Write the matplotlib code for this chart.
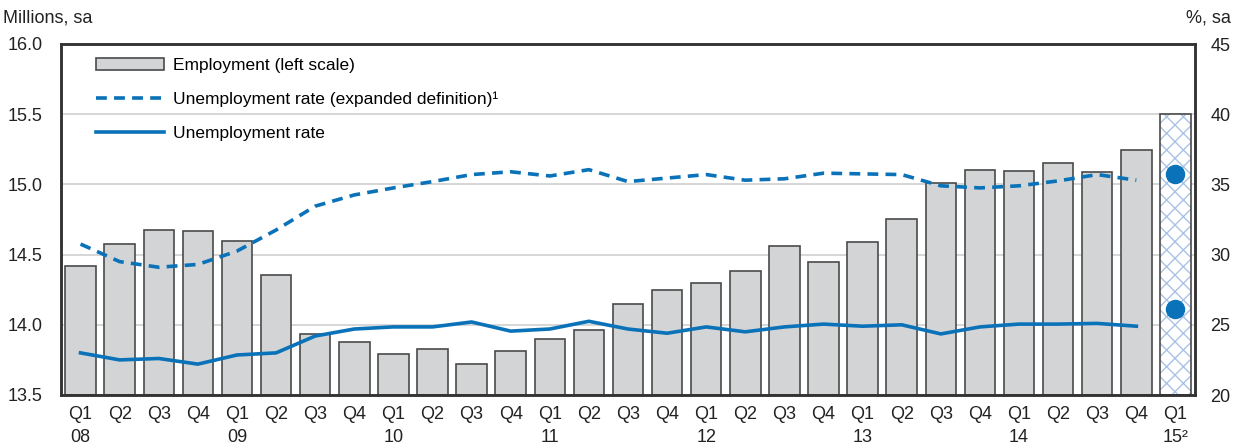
import numpy as np
import matplotlib
matplotlib.use("Agg")
import matplotlib.pyplot as plt

plt.rcParams['font.family'] = ['Liberation Sans', 'DejaVu Sans']
plt.rcParams['hatch.linewidth'] = 1.0

quarters = ["Q1", "Q2", "Q3", "Q4"]
years = ["08", "09", "10", "11", "12", "13", "14"]
tick_labels = []
for y in years:
    for i, q in enumerate(quarters):
        tick_labels.append(q + "\n" + y if i == 0 else q)
tick_labels.append("Q1\n15\u00b2")

# employment, millions (Q1 08 - Q4 14)
employment = [14.42, 14.575, 14.675, 14.67, 14.60, 14.355, 13.935, 13.88,
              13.79, 13.83, 13.72, 13.81, 13.90, 13.96, 14.15, 14.25,
              14.30, 14.38, 14.56, 14.45, 14.59, 14.75, 15.01, 15.10,
              15.095, 15.15, 15.09, 15.245]
employment_q1_15 = 15.5

# unemployment rate, %
unemp = [23.0, 22.5, 22.6, 22.2, 22.85, 23.0, 24.2, 24.7,
         24.85, 24.85, 25.2, 24.55, 24.7, 25.25, 24.7, 24.4,
         24.85, 24.5, 24.85, 25.05, 24.9, 25.0, 24.35, 24.85,
         25.05, 25.05, 25.1, 24.9]
unemp_q1_15 = 26.1

# unemployment rate, expanded definition, %
unemp_exp = [30.75, 29.5, 29.1, 29.3, 30.25, 31.75, 33.45, 34.25,
             34.75, 35.2, 35.7, 35.9, 35.6, 36.05, 35.2, 35.45,
             35.7, 35.3, 35.4, 35.8, 35.75, 35.7, 34.9, 34.75,
             34.9, 35.25, 35.7, 35.3]
unemp_exp_q1_15 = 35.75

blue = '#0a72b8'
dark = '#333333'

fig = plt.figure(figsize=(12.39, 4.48), dpi=100)
ax = fig.add_axes([61/1239, 1-395/448, (1195-61)/1239, (395-44)/448])
ax2 = ax.twinx()

x = np.arange(len(employment))
xf = len(employment)

ax.bar(x, np.array(employment) - 13.5, bottom=13.5, width=0.78,
       color='#d3d4d6', edgecolor='#4a4a4a', linewidth=1.2,
       label='Employment (left scale)')
ax.bar([xf], [employment_q1_15 - 13.5], bottom=13.5, width=0.78,
       color='white', edgecolor='#a9c3e6', hatch='xx', linewidth=0)
ax.bar([xf], [employment_q1_15 - 13.5], bottom=13.5, width=0.78,
       fill=False, edgecolor='#4a4a4a', linewidth=1.2)

ax.set_ylim(13.5, 16.0)
ax.set_yticks(np.arange(13.5, 16.01, 0.5))
ax.set_yticklabels([f"{v:.1f}" for v in np.arange(13.5, 16.01, 0.5)])
ax.set_xlim(-0.5, xf + 0.5)
ax.set_xticks(np.arange(xf + 1))
ax.set_xticklabels(tick_labels, linespacing=1.45)
ax.set_axisbelow(True)
ax.yaxis.grid(True, color='#d0d0d0', linewidth=1.2)

l1, = ax2.plot(x, unemp_exp, color=blue, linewidth=2.6, linestyle=(0, (3, 2)),
               label='Unemployment rate (expanded definition)\u00b9')
l2, = ax2.plot(x, unemp, color=blue, linewidth=2.6,
               label='Unemployment rate')
ax2.plot([xf], [unemp_exp_q1_15], 'o', color=blue, markersize=13)
ax2.plot([xf], [unemp_q1_15], 'o', color=blue, markersize=13)
ax2.set_ylim(20, 45)
ax2.set_yticks(np.arange(20, 46, 5))

for a in (ax, ax2):
    a.tick_params(length=0, labelsize=13, colors='#222222')
    for s in a.spines.values():
        s.set_color(dark)
        s.set_linewidth(1.8)
ax.tick_params(axis='x', pad=8)
ax.tick_params(axis='y', pad=13)
ax2.tick_params(axis='y', pad=11)

handles = [ax.patches[0], l1, l2]
labels = ['Employment (left scale)',
          'Unemployment rate (expanded definition)\u00b9',
          'Unemployment rate']
ax2.legend(handles, labels, loc='upper left', bbox_to_anchor=(0.017, 1.006),
           frameon=False, fontsize=12.5, handlelength=3.9, handleheight=0.7,
           labelspacing=1.08, handletextpad=0.55, borderaxespad=0.5)

fig.text(3/1239, 1-18/448, 'Millions, sa', fontsize=13, va='center',
         ha='left', color='#222222')
fig.text(1231/1239, 1-18/448, '%, sa', fontsize=13, va='center',
         ha='right', color='#222222')

fig.savefig('out.png', dpi=100)
